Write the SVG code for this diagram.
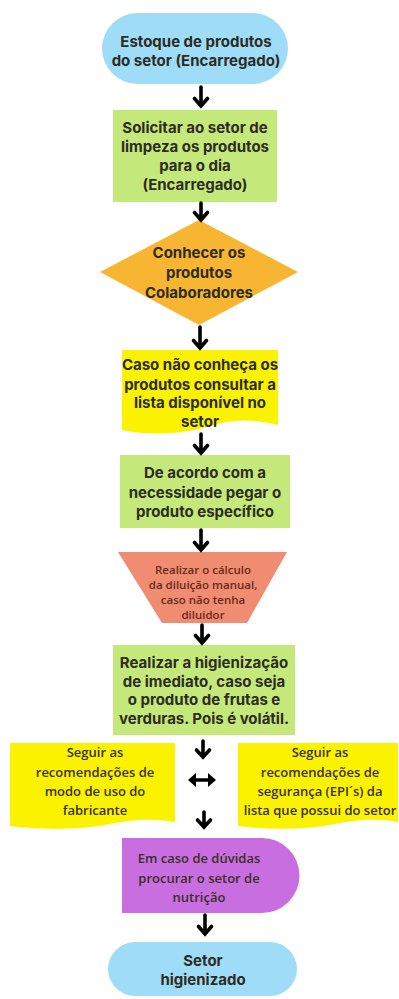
<svg xmlns="http://www.w3.org/2000/svg" width="399" height="999" viewBox="0 0 399 999">
<style>
.b{font-family:Inter,"Noto Sans",sans-serif;font-weight:700;font-size:15px;fill:#2c2c22;text-anchor:middle}
.s{font-family:"Open Sans","Noto Sans",sans-serif;font-weight:600;font-size:13px;fill:#3a3020;text-anchor:middle}
.t{font-family:"Open Sans","Noto Sans",sans-serif;font-weight:600;font-size:11.5px;fill:#6a2a1a;text-anchor:middle}
</style>
<rect width="399" height="999" fill="#fff"/>
<g id="n1">
<rect x="102" y="13" width="186" height="71" rx="35.5" fill="#9fdcf7"/>
<text class="b" x="196" y="47">Estoque de produtos</text>
<text class="b" x="196" y="66">do setor (Encarregado)</text>
</g>
<g id="n2">
<rect x="113" y="110" width="164" height="92" fill="#c5e87a"/>
<text class="b" x="195" y="133">Solicitar ao setor de</text>
<text class="b" x="195" y="152">limpeza os produtos</text>
<text class="b" x="195" y="171">para o dia</text>
<text class="b" x="195" y="190">(Encarregado)</text>
</g>
<g id="n3">
<polygon points="199,220 298,272 199,325 100,272" fill="#f7b531"/>
<text class="b" x="199" y="258">Conhecer os</text>
<text class="b" x="199" y="278">produtos</text>
<text class="b" x="199" y="298">Colaboradores</text>
</g>
<g id="n4">
<path d="M122,350 H278 V425 C250,418 230,420 210,426 C185,434 150,436 122,430 Z" fill="#fbf200"/>
<text class="b" x="200" y="370">Caso não conheça os</text>
<text class="b" x="200" y="390">produtos consultar a</text>
<text class="b" x="200" y="408">lista disponível no</text>
<text class="b" x="200" y="427">setor</text>
</g>
<g id="n5">
<rect x="120" y="455" width="170" height="73" fill="#c5e87a"/>
<text class="b" x="205" y="478">De acordo com a</text>
<text class="b" x="205" y="498">necessidade pegar o</text>
<text class="b" x="205" y="517">produto específico</text>
</g>
<g id="n6">
<polygon points="118,552 287,552 247,623 162,623" fill="#ef8c72"/>
<text class="t" x="203" y="574">Realizar o cálculo</text>
<text class="t" x="203" y="589">da diluição manual,</text>
<text class="t" x="203" y="604">caso não tenha</text>
<text class="t" x="203" y="619">diluidor</text>
</g>
<g id="n7">
<rect x="113" y="645" width="182" height="90" fill="#c5e87a"/>
<text class="b" x="204" y="668">Realizar a higienização</text>
<text class="b" x="204" y="687">de imediato, caso seja</text>
<text class="b" x="204" y="705">o produto de frutas e</text>
<text class="b" x="204" y="724">verduras. Pois é volátil.</text>
</g>
<g id="n8">
<path d="M10,743 H175 V822 C150,818 130,820 110,824 C80,830 40,830 10,826 Z" fill="#fbf200"/>
<text class="s" x="95" y="757">Seguir as</text>
<text class="s" x="95" y="777">recomendações de</text>
<text class="s" x="95" y="796">modo de uso do</text>
<text class="s" x="95" y="815">fabricante</text>
</g>
<g id="n9">
<path d="M238,743 H398 V822 C375,818 355,820 335,824 C305,830 270,830 238,826 Z" fill="#fbf200"/>
<text class="s" x="320" y="757">Seguir as</text>
<text class="s" x="320" y="777">recomendações de</text>
<text class="s" x="320" y="796">segurança (EPI´s) da</text>
<text class="s" x="320" y="815">lista que possui do setor</text>
</g>
<g id="n10">
<path d="M122,838 H262 A37.5,37.5 0 0 1 262,913 H122 Z" fill="#c86ee0"/>
<text class="s" x="199" y="863">Em caso de dúvidas</text>
<text class="s" x="199" y="883">procurar o setor de</text>
<text class="s" x="199" y="902">nutrição</text>
</g>
<g id="n11">
<rect x="108" y="942" width="189" height="54" rx="27" fill="#9fdcf7"/>
<text class="b" x="203" y="966">Setor</text>
<text class="b" x="203" y="985">higienizado</text>
</g>
<g id="connectors" fill="none" stroke="#000" stroke-width="3.6" stroke-linecap="round" stroke-linejoin="miter">
<path d="M201,87 V105 M194.5,98.5 L201,106 L207.5,98.5"/>
<path d="M201,203 V219 M194.5,212.5 L201,220 L207.5,212.5"/>
<path d="M200,327 V347 M193.5,340.5 L200,348 L206.5,340.5"/>
<path d="M201,434 V452 M194.5,445.5 L201,453 L207.5,445.5"/>
<path d="M201,530 V549 M194.5,542.5 L201,550 L207.5,542.5"/>
<path d="M202,625 V642 M195.5,635.5 L202,643 L208.5,635.5"/>
<path d="M203,741 V756 M196.5,750 L203,757 L209.5,750"/>
<path d="M195,780 H209"/>
<path d="M204,812 V826 M197.5,820 L204,827 L210.5,820"/>
<path d="M205,915 V933 M198.5,926.5 L205,934 L211.5,926.5"/>
<polygon points="188,780 196,773 196,787" fill="#000" stroke="none"/>
<polygon points="216,780 208,773 208,787" fill="#000" stroke="none"/>
</g>
</svg>
